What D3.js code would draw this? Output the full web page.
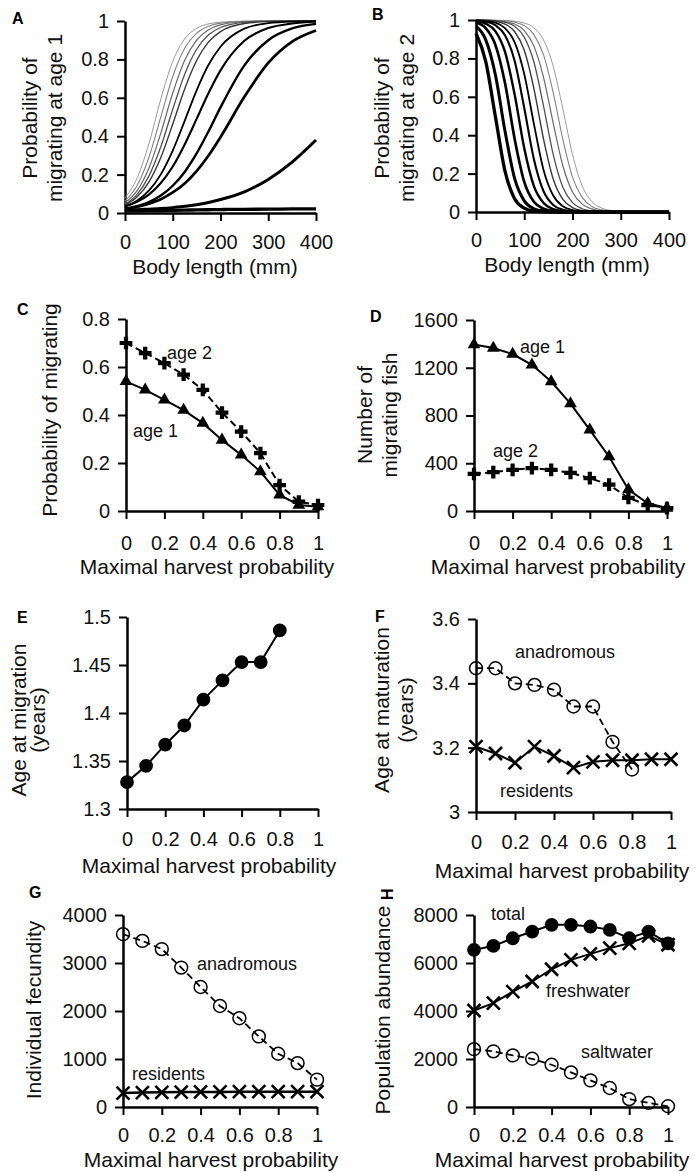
<!DOCTYPE html>
<html lang="en">
<head>
<meta charset="UTF-8">
<title>Harvest and migration</title>
<style>
  body { margin: 0; background: #fff; }
  svg { display: block; font-family: "Liberation Sans", Arial, sans-serif; }
  .axis path.domain { stroke: #000; stroke-width: 2.5px; }
  .axis line { stroke: #000; stroke-width: 2px; }
  .axis text { font-size: 20px; fill: #111; font-family: "Liberation Sans", Arial, sans-serif; }
  .title { font-size: 21px; fill: #111; }
  .note { font-size: 18px; fill: #111; }
  .letter { font-size: 16px; font-weight: bold; fill: #000; }
</style>
<script src="https://d3js.org/d3.v7.min.js"></script>
</head>
<body>
<svg width="695" height="1172"></svg>
<script>
// ---- data ----
var harvest = [0, 0.1, 0.2, 0.3, 0.4, 0.5, 0.6, 0.7, 0.8, 0.9, 1];

// A: probability of migrating at age 1 vs body length, one curve per harvest level
var lengthA = [0, 25, 50, 75, 100, 125, 150, 175, 200, 250, 300, 350, 400];
var probAge1 = [
  [0.078, 0.18, 0.36, 0.594, 0.79, 0.907, 0.962, 0.985, 0.994, 0.999, 1, 1, 1],
  [0.063, 0.142, 0.289, 0.5, 0.711, 0.858, 0.937, 0.973, 0.989, 0.998, 1, 1, 1],
  [0.053, 0.115, 0.233, 0.416, 0.625, 0.796, 0.901, 0.955, 0.98, 0.996, 0.999, 1, 1],
  [0.046, 0.096, 0.192, 0.345, 0.54, 0.723, 0.853, 0.928, 0.966, 0.993, 0.999, 1, 1],
  [0.041, 0.083, 0.161, 0.289, 0.463, 0.646, 0.794, 0.891, 0.945, 0.987, 0.997, 0.999, 1],
  [0.035, 0.064, 0.116, 0.201, 0.325, 0.48, 0.639, 0.772, 0.866, 0.96, 0.989, 0.997, 0.999],
  [0.034, 0.058, 0.096, 0.156, 0.242, 0.357, 0.49, 0.625, 0.743, 0.897, 0.963, 0.987, 0.996],
  [0.022, 0.036, 0.057, 0.091, 0.142, 0.214, 0.31, 0.426, 0.55, 0.769, 0.9, 0.961, 0.985],
  [0.021, 0.032, 0.049, 0.072, 0.107, 0.154, 0.218, 0.299, 0.395, 0.605, 0.782, 0.893, 0.951],
  [0.015, 0.017, 0.02, 0.023, 0.028, 0.035, 0.043, 0.055, 0.07, 0.11, 0.175, 0.265, 0.38],
  [0.01, 0.011, 0.012, 0.013, 0.014, 0.015, 0.016, 0.017, 0.018, 0.019, 0.02, 0.021, 0.022]
];

// B: probability of migrating at age 2 vs body length
var lengthB = [0, 20, 40, 60, 80, 100, 120, 140, 160, 180, 200, 220, 240, 260, 280, 300, 400];
var probAge2 = [
  [1, 1, 0.999, 0.998, 0.994, 0.984, 0.959, 0.896, 0.759, 0.537, 0.3, 0.136, 0.055, 0.021, 0.008, 0.003, 0],
  [1, 0.999, 0.998, 0.996, 0.989, 0.971, 0.924, 0.818, 0.622, 0.378, 0.182, 0.076, 0.029, 0.011, 0.004, 0.002, 0],
  [1, 0.999, 0.997, 0.992, 0.979, 0.945, 0.864, 0.701, 0.463, 0.241, 0.104, 0.041, 0.016, 0.006, 0.002, 0.001, 0],
  [1, 0.999, 0.996, 0.988, 0.967, 0.911, 0.781, 0.552, 0.3, 0.129, 0.049, 0.017, 0.006, 0.002, 0.001, 0, 0],
  [0.999, 0.997, 0.993, 0.979, 0.94, 0.842, 0.643, 0.38, 0.172, 0.066, 0.023, 0.008, 0.003, 0.001, 0, 0, 0],
  [0.998, 0.995, 0.986, 0.958, 0.885, 0.719, 0.459, 0.219, 0.086, 0.03, 0.01, 0.004, 0.001, 0, 0, 0, 0],
  [0.997, 0.991, 0.973, 0.921, 0.788, 0.542, 0.275, 0.108, 0.037, 0.012, 0.004, 0.001, 0, 0, 0, 0, 0],
  [0.994, 0.981, 0.942, 0.835, 0.613, 0.332, 0.135, 0.047, 0.015, 0.005, 0.002, 0, 0, 0, 0, 0, 0],
  [0.987, 0.958, 0.872, 0.673, 0.382, 0.157, 0.053, 0.017, 0.005, 0.002, 0, 0, 0, 0, 0, 0, 0],
  [0.968, 0.898, 0.717, 0.423, 0.175, 0.058, 0.017, 0.005, 0.002, 0, 0, 0, 0, 0, 0, 0, 0],
  [0.931, 0.786, 0.5, 0.214, 0.069, 0.02, 0.005, 0.002, 0, 0, 0, 0, 0, 0, 0, 0, 0]
];

// C, D
var migProbAge1 = [0.54, 0.505, 0.463, 0.42, 0.366, 0.296, 0.234, 0.164, 0.067, 0.025, 0.018];
var migProbAge2 = [0.70, 0.658, 0.616, 0.568, 0.505, 0.41, 0.331, 0.241, 0.108, 0.039, 0.025];
var migNumAge1 = [1395, 1365, 1315, 1225, 1085, 900, 680, 455, 180, 65, 25];
var migNumAge2 = [310, 325, 345, 360, 345, 320, 275, 220, 110, 50, 25];

// E, F
var ageMigration = [1.328, 1.345, 1.367, 1.387, 1.414, 1.434, 1.453, 1.453, 1.486];
var matAnadromous = [3.447, 3.447, 3.40, 3.395, 3.38, 3.328, 3.328, 3.218, 3.132];
var matResidents = [3.203, 3.182, 3.153, 3.203, 3.174, 3.138, 3.156, 3.161, 3.161, 3.164, 3.164];

// G, H
var fecAnadromous = [3600, 3460, 3290, 2905, 2500, 2105, 1850, 1470, 1110, 915, 570];
var fecResidents = [290, 300, 305, 310, 315, 315, 320, 320, 320, 320, 320];
var popTotal = [6550, 6710, 7030, 7310, 7590, 7590, 7520, 7380, 7030, 7310, 6820];
var popFresh = [4020, 4330, 4810, 5230, 5740, 6130, 6380, 6620, 6820, 7130, 6760];
var popSalt = [2410, 2320, 2150, 2010, 1760, 1440, 1110, 790, 330, 170, 30];

var harvestTicks = [0, 0.2, 0.4, 0.6, 0.8, 1];
var lengthTicks = [0, 100, 200, 300, 400];
var harvestTitle = "Maximal harvest probability";

var svg = d3.select("svg");
svg.append("rect").attr("width", 695).attr("height", 1172).attr("fill", "#fff");

function drawPanel(p) {
    var g = svg.append("g");
    var x = d3.scaleLinear().domain(p.xDomain).range([p.left, p.right]);
    var y = d3.scaleLinear().domain(p.yDomain).range([p.bottom, p.top]);

    g.append("g").attr("class", "axis")
        .attr("transform", "translate(0," + p.bottom + ")")
        .call(d3.axisBottom(x).tickValues(p.xTicks).tickFormat(String)
            .tickSize(8).tickSizeOuter(0).tickPadding(p.xPad));
    g.append("g").attr("class", "axis")
        .attr("transform", "translate(" + p.left + ",0)")
        .call(d3.axisLeft(y).tickValues(p.yTicks).tickFormat(String)
            .tickSize(8).tickSizeOuter(0).tickPadding(8));

    g.append("text").attr("class", "title")
        .attr("x", p.xTitleX).attr("y", p.xTitleY)
        .attr("text-anchor", "middle").text(p.xTitle);
    p.yTitle.forEach(function(t, i) {
        g.append("text").attr("class", "title").attr("text-anchor", "middle")
            .attr("transform", "translate(" + p.yTitleX[i] + "," + p.yTitleCY + ") rotate(-90)")
            .text(t);
    });

    var lt = g.append("text").attr("class", "letter").text(p.letter);
    if (p.letterRotate) {
        lt.attr("transform", "translate(" + p.letterX + "," + p.letterY + ") rotate(-90)");
    } else {
        lt.attr("x", p.letterX).attr("y", p.letterY);
    }
    return { g: g, x: x, y: y };
}

function series(P, xs, ys, o) {
    var line = d3.line()
        .x(function(d, i) { return P.x(xs[i]); })
        .y(function(d) { return P.y(d); });
    if (o.curve) line.curve(o.curve);
    P.g.append("path").datum(ys)
        .attr("fill", "none")
        .attr("stroke", o.color || "#000")
        .attr("stroke-width", o.width || 2)
        .attr("stroke-dasharray", o.dash || null)
        .attr("d", line);
    if (o.symbol) {
        P.g.append("g").selectAll("path").data(ys).join("path")
            .attr("transform", function(d, i) { return "translate(" + P.x(xs[i]) + "," + P.y(d) + ")"; })
            .attr("d", d3.symbol(o.symbol, o.size))
            .attr("fill", o.fill || "none")
            .attr("stroke", o.stroke || "none")
            .attr("stroke-width", o.sw || 0);
    }
}

function note(P, xv, yv, t) {
    P.g.append("text").attr("class", "note").attr("x", P.x(xv)).attr("y", P.y(yv)).text(t);
}

// curve style per harvest level: thin grey (low harvest) to thick black (high harvest)
function curveColor(i) { return i < 5 ? d3.interpolateRgb("#9a9a9a", "#383838")(i / 4) : "#000"; }
function curveWidth(i) { return i < 5 ? 1 + i * 0.1 : 1.8 + (i - 5) * 0.3; }

var dash = "7,4";
var tri = { symbol: d3.symbolTriangle, size: 70, fill: "#000" };
var plus = { symbol: d3.symbolCross, size: 90, fill: "#000" };
var times = { symbol: d3.symbolTimes, size: 112, stroke: "#000", sw: 2.6 };
var ring = { symbol: d3.symbolCircle, size: 130, stroke: "#000", sw: 1.5 };
var dot = { symbol: d3.symbolCircle, size: 150, fill: "#000" };
function withLine(m, extra) { return Object.assign({}, m, extra || {}); }

// ---- A ----
var A = drawPanel({ left: 125, right: 316, top: 21, bottom: 213, xDomain: [0, 400], yDomain: [0, 1],
    xTicks: lengthTicks, yTicks: [0, 0.2, 0.4, 0.6, 0.8, 1], xPad: 14,
    xTitle: "Body length (mm)", xTitleX: 215, xTitleY: 274,
    yTitle: ["Probability of", "migrating at age 1"], yTitleX: [37, 62], yTitleCY: 118,
    letter: "A", letterX: 12, letterY: 24 });
probAge1.forEach(function(ys, i) {
    series(A, lengthA, ys, { curve: d3.curveMonotoneX, color: curveColor(i), width: curveWidth(i) });
});

// ---- B ----
var B = drawPanel({ left: 476, right: 669, top: 20, bottom: 212, xDomain: [0, 400], yDomain: [0, 1],
    xTicks: lengthTicks, yTicks: [0, 0.2, 0.4, 0.6, 0.8, 1], xPad: 13,
    xTitle: "Body length (mm)", xTitleX: 567, xTitleY: 272,
    yTitle: ["Probability of", "migrating at age 2"], yTitleX: [389, 414], yTitleCY: 118,
    letter: "B", letterX: 372, letterY: 20 });
probAge2.forEach(function(ys, i) {
    series(B, lengthB, ys, { curve: d3.curveMonotoneX, color: curveColor(i), width: curveWidth(i) });
});

// ---- C ----
var C = drawPanel({ left: 126, right: 318, top: 319, bottom: 511, xDomain: [0, 1], yDomain: [0, 0.8],
    xTicks: harvestTicks, yTicks: [0, 0.2, 0.4, 0.6, 0.8], xPad: 17,
    xTitle: harvestTitle, xTitleX: 207, xTitleY: 574,
    yTitle: ["Probability of migrating"], yTitleX: [57], yTitleCY: 410,
    letter: "C", letterX: 17, letterY: 315 });
series(C, harvest, migProbAge2, withLine(plus, { dash: dash }));
series(C, harvest, migProbAge1, withLine(tri));
note(C, 0.213, 0.633, "age 2");
note(C, 0.036, 0.308, "age 1");

// ---- D ----
var D = drawPanel({ left: 474, right: 667, top: 320, bottom: 511, xDomain: [0, 1], yDomain: [0, 1600],
    xTicks: harvestTicks, yTicks: [0, 400, 800, 1200, 1600], xPad: 17,
    xTitle: harvestTitle, xTitleX: 558, xTitleY: 574,
    yTitle: ["Number of", "migrating fish"], yTitleX: [372, 397], yTitleCY: 415,
    letter: "D", letterX: 370, letterY: 322 });
series(D, harvest, migNumAge2, withLine(plus, { dash: dash }));
series(D, harvest, migNumAge1, withLine(tri));
note(D, 0.238, 1323, "age 1");
note(D, 0.098, 452, "age 2");

// ---- E ----
var E = drawPanel({ left: 127, right: 318, top: 617, bottom: 809, xDomain: [0, 1], yDomain: [1.3, 1.5],
    xTicks: harvestTicks, yTicks: [1.3, 1.35, 1.4, 1.45, 1.5], xPad: 15,
    xTitle: harvestTitle, xTitleX: 209, xTitleY: 873,
    yTitle: ["Age at migration", "(years)"], yTitleX: [26, 45], yTitleCY: 720,
    letter: "E", letterX: 17, letterY: 623 });
series(E, harvest, ageMigration, withLine(dot));

// ---- F ----
var F = drawPanel({ left: 476, right: 671, top: 619, bottom: 812, xDomain: [0, 1], yDomain: [3, 3.6],
    xTicks: harvestTicks, yTicks: [3, 3.2, 3.4, 3.6], xPad: 15,
    xTitle: harvestTitle, xTitleX: 562, xTitleY: 878,
    yTitle: ["Age at maturation", "(years)"], yTitleX: [389, 413], yTitleCY: 710,
    letter: "F", letterX: 375, letterY: 622 });
series(F, harvest, matAnadromous, withLine(ring, { dash: dash, width: 1.8 }));
series(F, harvest, matResidents, withLine(times));
note(F, 0.2, 3.479, "anadromous");
note(F, 0.123, 3.047, "residents");

// ---- G ----
var G = drawPanel({ left: 123, right: 317, top: 915, bottom: 1107, xDomain: [0, 1], yDomain: [0, 4000],
    xTicks: harvestTicks, yTicks: [0, 1000, 2000, 3000, 4000], xPad: 13,
    xTitle: harvestTitle, xTitleX: 211, xTitleY: 1167,
    yTitle: ["Individual fecundity"], yTitleX: [41], yTitleCY: 1010,
    letter: "G", letterX: 29, letterY: 898 });
series(G, harvest, fecAnadromous, withLine(ring, { dash: dash, width: 1.8 }));
series(G, harvest, fecResidents, withLine(times, { width: 2.5 }));
note(G, 0.381, 2854, "anadromous");
note(G, 0.046, 562, "residents");

// ---- H ----
var H = drawPanel({ left: 474, right: 668, top: 915, bottom: 1107, xDomain: [0, 1], yDomain: [0, 8000],
    xTicks: harvestTicks, yTicks: [0, 2000, 4000, 6000, 8000], xPad: 13,
    xTitle: harvestTitle, xTitleX: 562, xTitleY: 1167,
    yTitle: ["Population abundance"], yTitleX: [390], yTitleCY: 1010,
    letter: "H", letterX: 393, letterY: 900, letterRotate: true });
series(H, harvest, popSalt, withLine(ring, { dash: dash, width: 1.8 }));
series(H, harvest, popFresh, withLine(times));
series(H, harvest, popTotal, withLine(dot));
note(H, 0.088, 7792, "total");
note(H, 0.371, 4583, "freshwater");
note(H, 0.552, 2042, "saltwater");
</script>
</body>
</html>
